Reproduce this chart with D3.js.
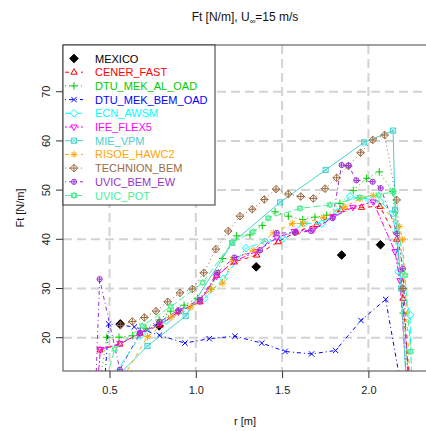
<!DOCTYPE html>
<html>
<head>
<meta charset="utf-8">
<script src="https://cdn.jsdelivr.net/npm/d3@7"></script>
<style>
body { margin: 0; background: #fff; }
svg { font-family: "Liberation Sans", Arial, sans-serif; }
</style>
</head>
<body>
<div id="chart"></div>
<script>
// series names, in legend order
var names = ["MEXICO", "CENER_FAST", "DTU_MEK_AL_OAD", "DTU_MEK_BEM_OAD", "ECN_AWSM", "IFE_FLEX5",
             "MIE_VPM", "RISOE_HAWC2", "TECHNION_BEM", "UVIC_BEM_EW", "UVIC_POT"];

var rMexico = [0.5625, 0.7875, 1.35, 1.845, 2.07];
var ftMexico = [22.8, 22.4, 34.4, 36.8, 38.9];

var rCener = [0.445, 0.56, 0.677, 0.79, 0.899, 1.024, 1.121, 1.223, 1.353, 1.478, 1.581, 1.70, 1.84, 1.96, 2.067, 2.164, 2.2, 2.235];
var ftCener = [17.5, 18.7, 20.9, 22.5, 25.3, 27.3, 32.7, 35.4, 36.8, 39.5, 41.5, 43.0, 46.0, 46.5, 46.7, 40.0, 28.0, 12.0];

var rDtuAl = [0.44, 0.484, 0.555, 0.634, 0.711, 0.787, 0.855, 0.932, 1.01, 1.088, 1.156, 1.237, 1.314, 1.385, 1.459, 1.536, 1.62, 1.69, 1.758, 1.835, 1.912, 1.99, 2.063, 2.141, 2.202, 2.235];
var ftDtuAl = [10, 20.1, 20.1, 20.4, 21.9, 23.6, 25.4, 26.6, 28.0, 29.8, 36.1, 40.7, 40.9, 42.8, 45.6, 44.7, 44.0, 44.5, 44.9, 47.3, 49.9, 52.4, 53.7, 49.7, 25.0, 10];

var rDtuBem = [0.47, 0.495, 0.644, 0.789, 0.937, 1.078, 1.227, 1.382, 1.517, 1.671, 1.81, 1.957, 2.1, 2.19];
var ftDtuBem = [10, 22.8, 22.2, 20.5, 18.9, 19.8, 20.3, 18.9, 17.2, 16.7, 17.4, 23.5, 27.8, 10];

var rEcn = [0.5, 0.68, 0.83, 0.94, 1.05, 1.16, 1.291, 1.40, 1.507, 1.623, 1.73, 1.82, 1.893, 2.0, 2.07, 2.144, 2.175, 2.241, 2.25];
var ftEcn = [11, 20.5, 23.5, 25.5, 28.0, 32.0, 38.2, 39.5, 40.2, 43.2, 43.2, 45.5, 48.7, 48.2, 47.6, 45.3, 33.4, 24.6, 12];

var rIfe = [0.43, 0.447, 0.56, 0.677, 0.79, 0.899, 1.024, 1.12, 1.22, 1.35, 1.47, 1.57, 1.68, 1.797, 1.91, 2.028, 2.154, 2.183, 2.22];
var ftIfe = [10, 17.6, 18.8, 20.9, 22.8, 25.2, 27.4, 32.5, 35.5, 37.5, 40.3, 41.6, 41.9, 44.6, 46.5, 47.6, 37.5, 31.6, 12];

var rMie = [0.55, 0.72, 0.941, 1.211, 1.488, 1.752, 1.975, 2.143, 2.155, 2.19, 2.22];
var ftMie = [12.3, 18.3, 24.4, 39.3, 47.5, 54.1, 59.7, 62.1, 46, 30, 10];

var rRisoe = [0.58, 0.72, 0.856, 0.972, 1.088, 1.156, 1.214, 1.333, 1.449, 1.559, 1.619, 1.74, 1.864, 1.952, 2.028, 2.179, 2.199, 2.24];
var ftRisoe = [12, 20.2, 24.1, 26.2, 29.8, 31.1, 35.9, 37.8, 41.3, 43.2, 43.2, 44.5, 46.6, 48.3, 48.9, 42.6, 40.0, 12];

var rTech = [0.5625, 0.632, 0.702, 0.769, 0.837, 0.908, 0.98, 1.046, 1.116, 1.188, 1.256, 1.327, 1.397, 1.465, 1.536, 1.608, 1.681, 1.749, 1.816, 1.884, 1.955, 2.025, 2.094, 2.164, 2.2, 2.23];
var ftTech = [22.5, 23.3, 24.1, 25.4, 27.3, 29.1, 29.9, 33.2, 38.0, 41.7, 44.7, 46.1, 48.1, 50.2, 49.2, 48.7, 48.3, 50.3, 52.5, 54.9, 57.6, 60.2, 61.2, 48.0, 30.0, 12];

var rUvicBem = [0.42, 0.443, 0.56, 0.677, 0.79, 0.899, 1.024, 1.124, 1.223, 1.372, 1.469, 1.575, 1.667, 1.793, 1.845, 1.885, 1.93, 2.025, 2.071, 2.167, 2.2, 2.23];
var ftUvicBem = [10, 31.9, 13.5, 21.0, 23.2, 25.6, 27.7, 33.2, 36.3, 37.8, 41.3, 41.3, 41.7, 44.3, 55.1, 55.0, 52.0, 51.7, 50.4, 41.2, 34, 12];

var rUvicPot = [0.47, 0.53, 0.69, 0.855, 1.04, 1.21, 1.33, 1.42, 1.604, 1.777, 1.95, 2.06, 2.144, 2.212, 2.245];
var ftUvicPot = [10, 17.7, 22.4, 26.3, 31.2, 39.3, 41.5, 44.3, 46.3, 47.0, 48.5, 49.0, 49.7, 32.7, 17.2];

var xTicks = [0.5, 1.0, 1.5, 2.0];
var yTicks = [20, 30, 40, 50, 60, 70];

// style per series (R: col, pch, lty)
var colors = ["#000000", "#FF0000", "#00CD00", "#0000FF", "#00FFFF", "#FF00FF",
              "#48D1CC", "#FFA500", "#9B6B43", "#9A32CD", "#4EEE94"];
var pchs = [18, 2, 3, 4, 5, 6, 7, 8, 9, 10, 11];
var dashes = [null, "4,4", "1,3", "1,3,4,3", "7,3", "2,2,6,2", null, "4,4", "1,3", "1,3,4,3", "7,3"];

var rs = [rMexico, rCener, rDtuAl, rDtuBem, rEcn, rIfe, rMie, rRisoe, rTech, rUvicBem, rUvicPot];
var fts = [ftMexico, ftCener, ftDtuAl, ftDtuBem, ftEcn, ftIfe, ftMie, ftRisoe, ftTech, ftUvicBem, ftUvicPot];

var series = names.map(function(n, i) {
    return {
        name: n, color: colors[i], pch: pchs[i], dash: dashes[i], line: i > 0,
        values: rs[i].map(function(r, j) { return { r: r, ft: fts[i][j] }; })
    };
});

var width = 426;
var height = 431;
var padding = { top: 45, right: -2, bottom: 60, left: 63 };

var xScale = d3.scaleLinear()
    .domain([0.2306, 2.3453])
    .range([padding.left, width - padding.right]);
var yScale = d3.scaleLinear()
    .domain([13.23, 79.5])
    .range([height - padding.bottom, padding.top]);

var svg = d3.select('#chart')
    .append('svg')
    .attr('width', width)
    .attr('height', height);

// plot symbol shapes, roughly like R's pch
function symbolPath(pch) {
    switch (pch) {
        case 18: return "M0,-4.3L4.3,0L0,4.3L-4.3,0Z";
        case 2: return "M0,-3.5L3.1,2L-3.1,2Z";
        case 6: return "M0,3.5L3.1,-2L-3.1,-2Z";
        case 3: return "M-3.8,0H3.8M0,-3.8V3.8";
        case 4: return "M-2.7,-2.7L2.7,2.7M-2.7,2.7L2.7,-2.7";
        case 5: return "M0,-3.8L3.8,0L0,3.8L-3.8,0Z";
        case 7: return "M-2.6,-2.6H2.6V2.6H-2.6ZM-2.6,-2.6L2.6,2.6M-2.6,2.6L2.6,-2.6";
        case 8: return "M-3.5,0H3.5M0,-3.5V3.5M-2.6,-2.6L2.6,2.6M-2.6,2.6L2.6,-2.6";
        case 9: return "M0,-3.8L3.8,0L0,3.8L-3.8,0ZM-3.8,0H3.8M0,-3.8V3.8";
        case 10: return "M2.6,0A2.6,2.6 0 1,1 -2.6,0A2.6,2.6 0 1,1 2.6,0ZM-2.6,0H2.6M0,-2.6V2.6";
        case 11: return "M0,-3.2L3,1.9L-3,1.9ZM0,3.2L3,-1.9L-3,-1.9Z";
    }
    return "";
}

// grid
var grid = svg.append('g').attr('class', 'grid');
grid.selectAll('line.gx')
    .data(xTicks)
    .enter().append('line')
    .attr('x1', function(d) { return xScale(d); })
    .attr('x2', function(d) { return xScale(d); })
    .attr('y1', padding.top).attr('y2', height - padding.bottom)
    .attr('stroke', '#d3d3d3').attr('stroke-width', 2).attr('stroke-dasharray', '9,5');
grid.selectAll('line.gy')
    .data(yTicks)
    .enter().append('line')
    .attr('x1', padding.left).attr('x2', width - padding.right)
    .attr('y1', function(d) { return yScale(d); })
    .attr('y2', function(d) { return yScale(d); })
    .attr('stroke', '#d3d3d3').attr('stroke-width', 2).attr('stroke-dasharray', '9,5');

svg.append('clipPath').attr('id', 'plot-clip')
    .append('rect')
    .attr('x', padding.left).attr('y', padding.top)
    .attr('width', width - padding.left - padding.right)
    .attr('height', height - padding.top - padding.bottom);

var linePath = d3.line()
    .x(function(d) { return xScale(d.r); })
    .y(function(d) { return yScale(d.ft); });

var plot = svg.append('g').attr('clip-path', 'url(#plot-clip)');

series.forEach(function(s) {
    var g = plot.append('g');
    if (s.line) {
        g.append('path')
            .attr('d', linePath(s.values))
            .attr('fill', 'none')
            .attr('stroke', s.color)
            .attr('stroke-width', 1)
            .attr('stroke-dasharray', s.dash);
    }
    g.selectAll('path.pt')
        .data(s.values)
        .enter().append('path')
        .attr('class', 'pt')
        .attr('transform', function(d) { return 'translate(' + xScale(d.r) + ',' + yScale(d.ft) + ')'; })
        .attr('d', symbolPath(s.pch))
        .attr('fill', s.pch === 18 ? s.color : 'none')
        .attr('stroke', s.color)
        .attr('stroke-width', 1);
});

// axes
var xAxis = d3.axisBottom(xScale).tickValues(xTicks).tickFormat(d3.format('.1f')).tickSize(7).tickPadding(8);
var yAxis = d3.axisLeft(yScale).tickValues(yTicks).tickSize(7);

var gx = svg.append('g')
    .attr('transform', 'translate(0,' + (height - padding.bottom) + ')')
    .call(xAxis);
gx.select('.domain').remove();
gx.selectAll('line').attr('stroke', '#333');
gx.selectAll('text').attr('font-size', 11).attr('fill', '#222').attr('font-family', '"Liberation Sans", Arial, sans-serif');

var gy = svg.append('g')
    .attr('transform', 'translate(' + padding.left + ',0)')
    .call(yAxis);
gy.select('.domain').remove();
gy.selectAll('line').attr('stroke', '#333');
gy.selectAll('text')
    .attr('font-size', 11).attr('fill', '#222').attr('font-family', '"Liberation Sans", Arial, sans-serif')
    .attr('x', null).attr('dy', null)
    .attr('text-anchor', 'middle')
    .attr('dominant-baseline', 'central')
    .attr('transform', function(d) { return 'translate(-17,' + yScale(d) + ') rotate(-90)'; })
    .attr('y', 0);
gy.selectAll('.tick').attr('transform', null);
gy.selectAll('.tick line')
    .attr('transform', function(d) { return 'translate(0,' + yScale(d) + ')'; });

// plot frame
svg.append('rect')
    .attr('x', padding.left).attr('y', padding.top)
    .attr('width', width - padding.left - padding.right)
    .attr('height', height - padding.top - padding.bottom)
    .attr('fill', 'none').attr('stroke', '#444').attr('stroke-width', 1);

// title and axis labels
var title = svg.append('text')
    .attr('x', 245).attr('y', 21)
    .attr('text-anchor', 'middle')
    .attr('font-size', 12).attr('fill', '#111');
title.append('tspan').text('Ft [N/m], U');
title.append('tspan').attr('font-size', 8).attr('dy', 3).text('\u221E');
title.append('tspan').attr('dy', -3).text('=15 m/s');

svg.append('text')
    .attr('x', 245).attr('y', 425)
    .attr('text-anchor', 'middle')
    .attr('font-size', 11).attr('fill', '#111')
    .text('r [m]');

svg.append('text')
    .attr('transform', 'translate(20,' + ((padding.top + height - padding.bottom) / 2) + ') rotate(-90)')
    .attr('text-anchor', 'middle')
    .attr('dominant-baseline', 'central')
    .attr('font-size', 11).attr('fill', '#111')
    .text('Ft [N/m]');

// legend
var legend = svg.append('g');
legend.append('rect')
    .attr('x', padding.left).attr('y', padding.top)
    .attr('width', 152).attr('height', 160)
    .attr('fill', '#fff').attr('stroke', '#333').attr('stroke-width', 1);

var item = legend.selectAll('g.item')
    .data(series)
    .enter().append('g')
    .attr('class', 'item')
    .attr('transform', function(d, i) { return 'translate(' + padding.left + ',' + (58.5 + i * 13.7) + ')'; });
item.filter(function(d) { return d.line; })
    .append('line')
    .attr('x1', 2).attr('x2', 20)
    .attr('stroke', function(d) { return d.color; })
    .attr('stroke-dasharray', function(d) { return d.dash; });
item.append('path')
    .attr('transform', 'translate(11,0)')
    .attr('d', function(d) { return symbolPath(d.pch); })
    .attr('fill', function(d) { return d.pch === 18 ? d.color : '#fff'; })
    .attr('stroke', function(d) { return d.color; });
item.append('text')
    .attr('x', 32)
    .attr('dominant-baseline', 'central')
    .attr('font-size', 11)
    .attr('fill', function(d) { return d.color; })
    .text(function(d) { return d.name; });
</script>
</body>
</html>
